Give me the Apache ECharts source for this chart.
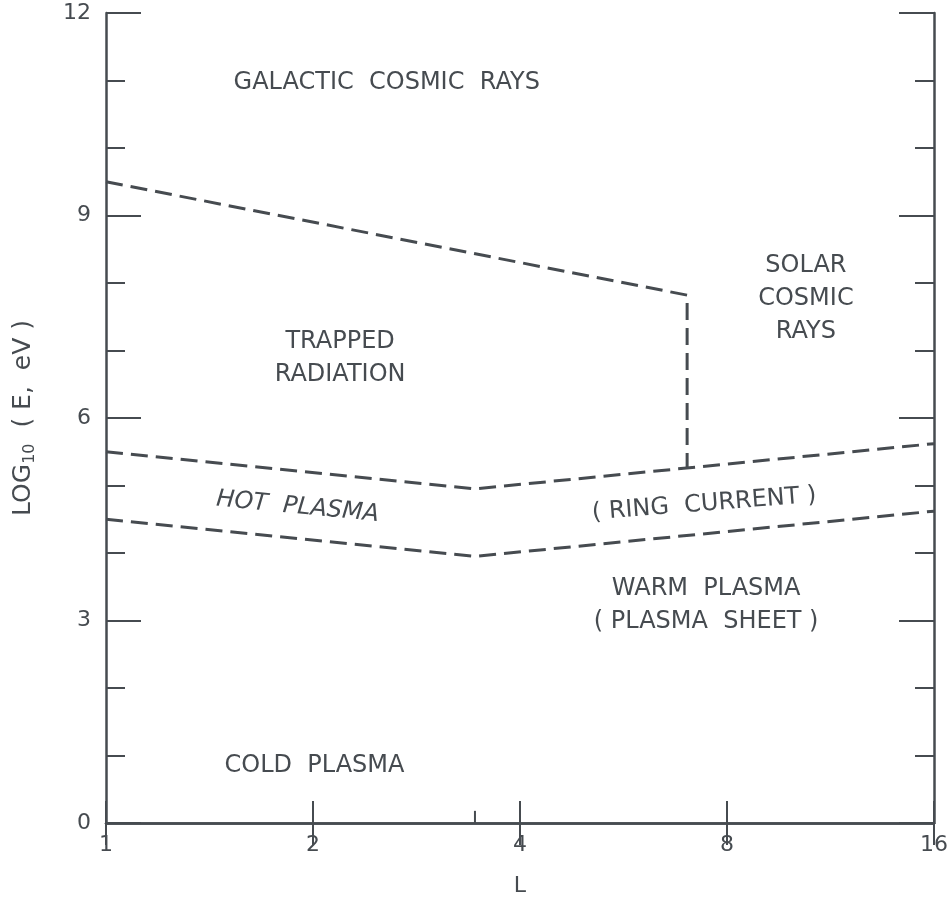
<!DOCTYPE html>
<html>
<head>
<meta charset="utf-8">
<script src="https://cdn.jsdelivr.net/npm/echarts@6/dist/echarts.min.js"></script>
<style>
  html, body { margin: 0; padding: 0; background: #ffffff; }
  #chart { width: 952px; height: 902px; }
</style>
</head>
<body>
<div id="chart"></div>
<script>
// Energy (log10 eV) versus L-shell: particle population regions.
const lTicks = [1, 2, 4, 8, 16];
const energyTicks = [0, 3, 6, 9, 12];

// Upper boundary of the trapped radiation region, closing down at L = 7
const trappedBoundary = [[1, 9.5], [7, 7.82], [7, 5.26]];
// Hot plasma (ring current) band: upper and lower edges, kink at the plasmapause
const hotPlasmaTop = [[1, 5.5], [3.44, 4.95], [16, 5.62]];
const hotPlasmaBottom = [[1, 4.5], [3.44, 3.95], [16, 4.62]];
// Small mark on the L axis at the kink
const kinkTick = [[3.44, 0], [3.44, 0.18]];

// Region names: [L, log10 E, text, rotation, italic]
const regionNames = [
  [2.56, 10.96, 'GALACTIC  COSMIC  RAYS', 0, false],
  [2.19, 6.88, 'TRAPPED\nRADIATION', 0, false],
  [10.42, 7.77, 'SOLAR\nCOSMIC\nRAYS', 0, false],
  [1.90, 4.68, 'HOT  PLASMA', -5.5, true],
  [7.41, 4.72, '( RING  CURRENT )', 4.5, false],
  [7.46, 3.22, 'WARM  PLASMA\n( PLASMA  SHEET )', 0, false],
  [2.01, 0.85, 'COLD  PLASMA', 0, false]
];

const ink = '#464b50';
const font = 'DejaVu Sans';

const chart = echarts.init(document.getElementById('chart'), null, { renderer: 'canvas' });

const dashed = { color: ink, width: 3, type: [17, 8], cap: 'butt' };

function lineSeries(data, style) {
  return {
    type: 'line',
    data: data,
    symbol: 'none',
    silent: true,
    lineStyle: style,
    z: 3
  };
}

const xBase = {
  type: 'log',
  logBase: 2,
  min: lTicks[0],
  max: lTicks[lTicks.length - 1],
  splitLine: { show: false },
  axisLine: { lineStyle: { color: ink, width: 2.5 } },
  axisTick: { inside: true, length: 22, lineStyle: { color: ink, width: 2 } }
};

const yBase = {
  type: 'value',
  min: energyTicks[0],
  max: energyTicks[energyTicks.length - 1],
  interval: 3,
  splitLine: { show: false },
  axisLine: { show: true, lineStyle: { color: ink, width: 2.5 } },
  axisTick: { inside: true, length: 35, lineStyle: { color: ink, width: 2 } },
  minorTick: { show: true, splitNumber: 3, length: 19, lineStyle: { color: ink, width: 2 } }
};

chart.setOption({
  animation: false,
  backgroundColor: '#ffffff',
  grid: { left: 104, right: 18, top: 13, bottom: 73 },
  xAxis: [
    Object.assign({}, xBase, {
      position: 'bottom',
      name: 'L',
      nameLocation: 'middle',
      nameGap: 52,
      nameTextStyle: { fontFamily: font, fontSize: 22, color: ink },
      axisLabel: { margin: 11, fontFamily: font, fontSize: 22, color: ink,
        formatter: v => String(Math.round(v)) }
    }),
    Object.assign({}, xBase, {
      position: 'top',
      axisLabel: { show: false }
    })
  ],
  yAxis: [
    Object.assign({}, yBase, {
      position: 'left',
      name: 'LOG{sub|10}  ( E,  eV )',
      nameLocation: 'middle',
      nameGap: 68,
      nameRotate: 90,
      nameTextStyle: {
        fontFamily: font, fontSize: 25, color: ink, lineHeight: 30,
        rich: { sub: { fontFamily: font, fontSize: 16, color: ink, lineHeight: 16, verticalAlign: 'bottom' } }
      },
      axisLabel: { margin: 15, fontFamily: font, fontSize: 22, color: ink }
    }),
    Object.assign({}, yBase, {
      position: 'right',
      axisLabel: { show: false }
    })
  ],
  series: [
    lineSeries(trappedBoundary, dashed),
    lineSeries(hotPlasmaTop, dashed),
    lineSeries(hotPlasmaBottom, dashed),
    lineSeries(kinkTick, { color: ink, width: 2 }),
    {
      type: 'scatter',
      silent: true,
      symbolSize: 0,
      itemStyle: { color: 'transparent', opacity: 1 },
      data: regionNames.map(r => ({
        value: [r[0], r[1]],
        label: {
          show: true,
          position: 'inside',
          formatter: r[2],
          rotate: r[3],
          fontStyle: r[4] ? 'italic' : 'normal',
          fontFamily: font,
          fontSize: 24,
          lineHeight: 33,
          color: ink,
          opacity: 1,
          align: 'center',
          verticalAlign: 'middle'
        }
      })),
      z: 4
    }
  ]
});
</script>
</body>
</html>
